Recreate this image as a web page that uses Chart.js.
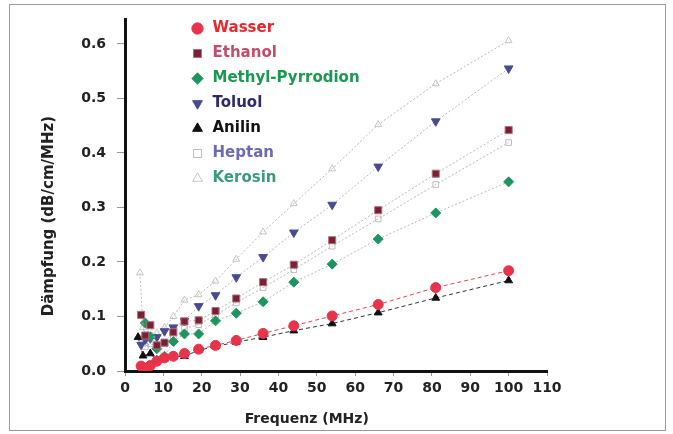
<!DOCTYPE html>
<html>
<head>
<meta charset="utf-8">
<script src="https://cdn.jsdelivr.net/npm/chart.js@4.4.1/dist/chart.umd.min.js"></script>
<style>
  html, body { margin: 0; padding: 0; background: #fff; }
  #frame { position: absolute; left: 9px; top: 4px; width: 655px; height: 425px; border: 1.5px solid #9a9a9a; }
  #wrap { position: absolute; left: 0; top: 0; width: 673px; height: 434px; }
</style>
</head>
<body>
<div id="frame"></div>
<div id="wrap"><canvas id="chart" width="673" height="434"></canvas></div>
<script>
// Dämpfung vs. Frequenz
const wasserFreq = [4.2, 5.3, 6.6, 8.3, 10.3, 12.6, 15.5, 19.2, 23.6, 29, 36, 44, 54, 66, 81, 100];
const wasserVal  = [0.009, 0.005, 0.010, 0.018, 0.024, 0.027, 0.032, 0.040, 0.047, 0.056, 0.069, 0.083, 0.101, 0.122, 0.153, 0.184];

const ethanolFreq = [4.2, 5.3, 6.6, 8.3, 10.3, 12.6, 15.5, 19.2, 23.6, 29, 36, 44, 54, 66, 81, 100];
const ethanolVal  = [0.103, 0.065, 0.084, 0.047, 0.052, 0.071, 0.091, 0.093, 0.110, 0.133, 0.163, 0.195, 0.240, 0.295, 0.362, 0.442];

const methylFreq = [5.3, 6.6, 8.3, 10.3, 12.6, 15.5, 19.2, 23.6, 29, 36, 44, 54, 66, 81, 100];
const methylVal  = [0.088, 0.063, 0.041, 0.027, 0.054, 0.068, 0.068, 0.092, 0.106, 0.127, 0.163, 0.196, 0.242, 0.290, 0.347];

const toluolFreq = [4.2, 5.3, 6.6, 8.3, 10.3, 12.6, 15.5, 19.2, 23.6, 29, 36, 44, 54, 66, 81, 100];
const toluolVal  = [0.048, 0.058, 0.060, 0.062, 0.073, 0.080, 0.092, 0.119, 0.139, 0.172, 0.209, 0.254, 0.305, 0.375, 0.458, 0.555];

const anilinFreq = [3.4, 4.7, 6.6, 8.3, 10.3, 12.6, 15.5, 19.2, 23.6, 29, 36, 44, 54, 66, 81, 100];
const anilinVal  = [0.062, 0.028, 0.032, 0.020, 0.023, 0.026, 0.027, 0.038, 0.045, 0.053, 0.062, 0.074, 0.087, 0.107, 0.134, 0.166];

const heptanFreq = [4.2, 5.3, 6.6, 8.3, 10.3, 12.6, 15.5, 19.2, 23.6, 29, 36, 44, 54, 66, 81, 100];
const heptanVal  = [0.060, 0.045, 0.050, 0.045, 0.050, 0.062, 0.078, 0.085, 0.103, 0.125, 0.153, 0.186, 0.229, 0.279, 0.342, 0.419];

const kerosinFreq = [3.9, 4.7, 5.3, 6.6, 8.3, 10.3, 12.6, 15.5, 19.2, 23.6, 29, 36, 44, 54, 66, 81, 100];
const kerosinVal  = [0.180, 0.080, 0.050, 0.060, 0.070, 0.080, 0.100, 0.130, 0.140, 0.165, 0.205, 0.255, 0.307, 0.371, 0.452, 0.527, 0.606];

const seriesNames = ["Wasser", "Ethanol", "Methyl-Pyrrodion", "Toluol", "Anilin", "Heptan", "Kerosin"];
const legendColors = ["#e8262e", "#c0506a", "#1a9a50", "#2e2a6e", "#111111", "#6e6ab0", "#3a9a80"];

const xTicks = [0, 10, 20, 30, 40, 50, 60, 70, 80, 90, 100, 110];
const yTicks = [0.0, 0.1, 0.2, 0.3, 0.4, 0.5, 0.6];

function pairs(f, v) {
  return f.map((x, i) => ({ x: x, y: v[i] }));
}

Chart.defaults.font.family = "'DejaVu Sans', Arial, sans-serif";

const grayLine = "#b8b8b8";

const datasets = [
  { label: seriesNames[0], data: pairs(wasserFreq, wasserVal),
    borderColor: "#e04656", borderDash: [4, 3], borderWidth: 1,
    pointStyle: "circle", pointRadius: 5, pointBackgroundColor: "#e8344a", pointBorderColor: "#e8344a" },
  { label: seriesNames[1], data: pairs(ethanolFreq, ethanolVal),
    borderColor: grayLine, borderDash: [2, 2], borderWidth: 1,
    pointStyle: "rect", pointRadius: 5, pointBackgroundColor: "#7a2035", pointBorderColor: "#b07080" },
  { label: seriesNames[2], data: pairs(methylFreq, methylVal),
    borderColor: grayLine, borderDash: [2, 2], borderWidth: 1,
    pointStyle: "rectRot", pointRadius: 5, pointBackgroundColor: "#1e9560", pointBorderColor: "#1e9560" },
  { label: seriesNames[3], data: pairs(toluolFreq, toluolVal),
    borderColor: grayLine, borderDash: [2, 2], borderWidth: 1,
    pointStyle: "triangle", pointRotation: 180, pointRadius: 5, pointBackgroundColor: "#4a4a90", pointBorderColor: "#4a4a90" },
  { label: seriesNames[4], data: pairs(anilinFreq, anilinVal),
    borderColor: "#333333", borderDash: [4, 3], borderWidth: 1,
    pointStyle: "triangle", pointRadius: 4.5, pointBackgroundColor: "#111", pointBorderColor: "#111" },
  { label: seriesNames[5], data: pairs(heptanFreq, heptanVal),
    borderColor: grayLine, borderDash: [2, 2], borderWidth: 1,
    pointStyle: "rect", pointRadius: 4, pointBackgroundColor: "rgba(255,255,255,0)", pointBorderColor: "#bdbdbd" },
  { label: seriesNames[6], data: pairs(kerosinFreq, kerosinVal),
    borderColor: grayLine, borderDash: [2, 2], borderWidth: 1,
    pointStyle: "triangle", pointRadius: 4, pointBackgroundColor: "rgba(255,255,255,0)", pointBorderColor: "#c4c4c4" }
];

// move the in-plot legend to the right a bit, like the figure
const legendShift = {
  id: "legendShift",
  afterLayout(chart) {
    chart.legend.left += 55;
    chart.legend.right += 55;
    chart.legend.top += 11;
    chart.legend.bottom += 11;
  }
};

// titles sit a little off-centre in the figure; trailing blanks nudge them
const xTitle = "Frequenz (MHz)" + " ".repeat(12);
const yTitle = "Dämpfung (dB/cm/MHz)" + " ".repeat(8);

new Chart(document.getElementById("chart"), {
  type: "scatter",
  data: { datasets: datasets.map(d => Object.assign({ showLine: true, fill: false, tension: 0 }, d)) },
  options: {
    responsive: false,
    animation: false,
    layout: { padding: { left: 36, top: 14, right: 126, bottom: 2 } },
    plugins: {
      tooltip: { enabled: false },
      legend: {
        position: "chartArea",
        align: "start",
        labels: {
          usePointStyle: true,
          boxHeight: 8,
          padding: 10,
          font: { size: 15, weight: "bold" },
          generateLabels(chart) {
            return chart.data.datasets.map((ds, i) => ({
              text: ds.label,
              datasetIndex: i,
              fillStyle: ds.pointBackgroundColor,
              strokeStyle: ds.pointBorderColor,
              lineWidth: 1,
              lineDash: [],
              pointStyle: ds.pointStyle,
              rotation: ds.pointRotation || 0,
              fontColor: legendColors[i],
              hidden: false
            }));
          }
        }
      }
    },
    scales: {
      x: {
        type: "linear",
        min: 0,
        max: 110,
        afterFit(scale) { scale.height = 61; },
        afterBuildTicks(scale) { scale.ticks = xTicks.map(v => ({ value: v })); },
        ticks: { color: "#222", font: { size: 14, weight: "bold" }, padding: 4, maxRotation: 0 },
        grid: { display: true, drawOnChartArea: false, drawTicks: true, tickLength: 5, color: "#999" },
        border: { display: true, color: "#111", width: 3 },
        title: { display: true, text: xTitle, color: "#222", font: { size: 14, weight: "bold" } }
      },
      y: {
        type: "linear",
        min: 0,
        max: 0.645,
        afterFit(scale) { scale.width = 89; },
        afterBuildTicks(scale) { scale.ticks = yTicks.map(v => ({ value: v })); },
        ticks: { color: "#222", font: { size: 14, weight: "bold" }, padding: 11, callback: v => v.toFixed(1) },
        grid: { display: true, drawOnChartArea: false, drawTicks: true, tickLength: 8, color: "#999" },
        border: { display: true, color: "#111", width: 3 },
        title: { display: true, text: yTitle, color: "#222", font: { size: 15, weight: "bold" } }
      }
    }
  },
  plugins: [legendShift]
});
</script>
</body>
</html>
